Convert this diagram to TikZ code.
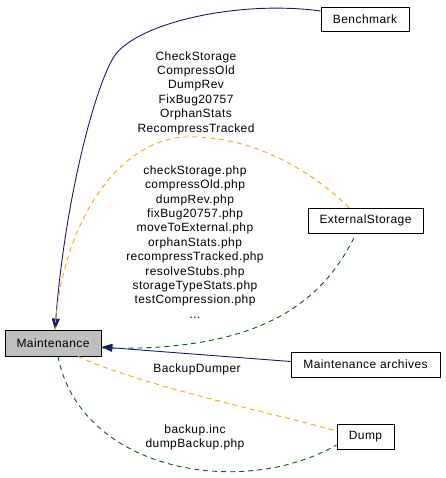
\documentclass[tikz,border=0pt]{standalone}
\usepackage{fontspec}
\setmainfont{Liberation Sans}[LetterSpace=3.5]
\usetikzlibrary{arrows.meta}
\definecolor{edgenavy}{HTML}{191970}
\definecolor{edgeorange}{HTML}{FFA500}
\definecolor{edgegreen}{HTML}{006400}
\definecolor{boxgray}{HTML}{BFBFBF}
\tikzset{
  grpbox/.style={draw=black, line width=0.8pt, fill=white, inner sep=0pt, minimum height=25pt},
  lbl/.style={align=center, inner sep=0pt, font=\fontsize{12}{14.4}\selectfont},
  subgrp/.style={draw=edgenavy, line width=0.9pt, -{Triangle[length=11pt,width=8pt]}},
  clsedge/.style={draw=edgeorange, line width=0.9pt, dash pattern=on 5pt off 4pt},
  fileedge/.style={draw=edgegreen, line width=0.9pt, dash pattern=on 5pt off 4pt},
}
\begin{document}
\begin{tikzpicture}[x=1pt,y=-1pt, every node/.style={font=\fontsize{12}{14.4}\selectfont}]
\useasboundingbox (0,0) rectangle (445,478);
\node[grpbox, fill=boxgray, minimum width=96pt, minimum height=26pt] (maint) at (53,343) {Maintenance};
\node[grpbox, minimum width=88pt, minimum height=24pt] (bench) at (365,19) {Benchmark};
\node[grpbox, minimum width=115pt] (ext) at (365.5,220.5) {ExternalStorage};
\node[grpbox, minimum width=149pt] (arch) at (365.5,364.5) {Maintenance archives};
\node[grpbox, minimum width=57pt] (dump) at (365.5,436.5) {Dump};

% subgroup edges
\draw[subgrp] ([yshift=8pt]bench.west) .. controls (240,0) and (140,22) .. (115,55)
  .. controls (95,85) and (65,200) .. ([xshift=2pt]maint.north);
\draw[subgrp] ([yshift=3pt]arch.west) -- ([yshift=-4pt]maint.east);

% class edges
\draw[clsedge] ([xshift=-16.5pt]ext.north) .. controls (300,160) and (240,135) .. (185,137)
  .. controls (120,140) and (62,220) .. ([xshift=2pt]maint.north);
\draw[clsedge] ([xshift=25pt]maint.south) .. controls (140,385) and (260,410) .. ([yshift=5.5pt]dump.west);

% file edges
\draw[fileedge] ([yshift=-5pt]maint.east) .. controls (250,352) and (320,310) .. ([xshift=-9.5pt]ext.south);
\draw[fileedge] ([xshift=5pt]maint.south) .. controls (80,470) and (240,500) .. ([yshift=-8.5pt]dump.west);

% labels
\node[lbl] (l1) at (196,93) {CheckStorage\\CompressOld\\DumpRev\\FixBug20757\\OrphanStats\\RecompressTracked};
\node[lbl] (l2) at (195,242) {checkStorage.php\\compressOld.php\\dumpRev.php\\fixBug20757.php\\moveToExternal.php\\orphanStats.php\\recompressTracked.php\\resolveStubs.php\\storageTypeStats.php\\testCompression.php\\...};
\node[lbl] (l3) at (197,369) {BackupDumper};
\node[lbl] (l4) at (195,437.5) {backup.inc\\dumpBackup.php};
\end{tikzpicture}
\end{document}
